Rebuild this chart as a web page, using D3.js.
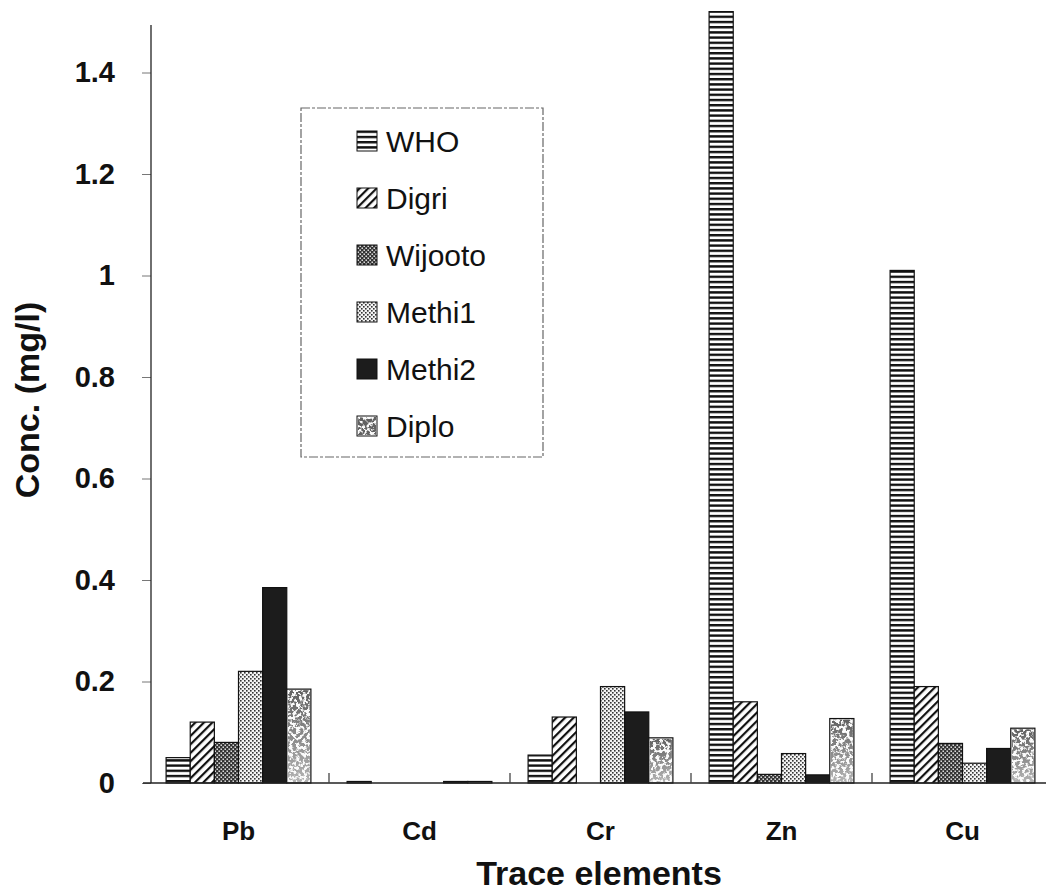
<!DOCTYPE html>
<html>
<head>
<meta charset="utf-8">
<script src="https://cdn.jsdelivr.net/npm/d3@7"></script>
<style>
  body { margin: 0; background: #fff; }
  text { font-family: "Liberation Sans", Arial, sans-serif; fill: #111; }
</style>
</head>
<body>
<script>
var svgWidth = 1046;
var svgHeight = 896;

// categories and series
var elements = ["Pb", "Cd", "Cr", "Zn", "Cu"];
var series = ["WHO", "Digri", "Wijooto", "Methi1", "Methi2", "Diplo"];

var who     = [0.05, 0.003, 0.055, 1.52, 1.01];
var digri   = [0.12, 0, 0.13, 0.16, 0.19];
var wijooto = [0.08, 0, 0, 0.017, 0.078];
var methi1  = [0.22, 0, 0.19, 0.058, 0.039];
var methi2  = [0.385, 0.003, 0.14, 0.016, 0.068];
var diplo   = [0.185, 0.003, 0.089, 0.127, 0.108];

var yTicks = [0, 0.2, 0.4, 0.6, 0.8, 1, 1.2, 1.4];

var values = [who, digri, wijooto, methi1, methi2, diplo];

var svg = d3.select("body")
  .append("svg")
  .attr("width", svgWidth)
  .attr("height", svgHeight);

// fill patterns for the black & white bars
var defs = svg.append("defs");

var pWho = defs.append("pattern").attr("id", "p-WHO")
  .attr("patternUnits", "userSpaceOnUse").attr("width", 6).attr("height", 5.2);
pWho.append("rect").attr("width", 6).attr("height", 5.2).attr("fill", "#fff");
pWho.append("rect").attr("width", 6).attr("height", 2.4).attr("fill", "#111");

var pDigri = defs.append("pattern").attr("id", "p-Digri")
  .attr("patternUnits", "userSpaceOnUse").attr("width", 6).attr("height", 6)
  .attr("patternTransform", "rotate(-45)");
pDigri.append("rect").attr("width", 6).attr("height", 6).attr("fill", "#fff");
pDigri.append("rect").attr("width", 6).attr("height", 2.2).attr("fill", "#111");

var pWij = defs.append("pattern").attr("id", "p-Wijooto")
  .attr("patternUnits", "userSpaceOnUse").attr("width", 4).attr("height", 4);
pWij.append("rect").attr("width", 4).attr("height", 4).attr("fill", "#333");
pWij.append("rect").attr("x", 0.5).attr("y", 0.5).attr("width", 1.4).attr("height", 1.4).attr("fill", "#fff");
pWij.append("rect").attr("x", 2.5).attr("y", 2.5).attr("width", 1.4).attr("height", 1.4).attr("fill", "#fff");

var pMe1 = defs.append("pattern").attr("id", "p-Methi1")
  .attr("patternUnits", "userSpaceOnUse").attr("width", 4).attr("height", 4);
pMe1.append("rect").attr("width", 4).attr("height", 4).attr("fill", "#f4f4f4");
pMe1.append("rect").attr("width", 1.6).attr("height", 1.6).attr("fill", "#333");
pMe1.append("rect").attr("x", 2).attr("y", 2).attr("width", 1.6).attr("height", 1.6).attr("fill", "#333");

// blotchy speckle for Diplo, darker towards the top
var speckle = defs.append("filter").attr("id", "speckle")
  .attr("x", 0).attr("y", 0).attr("width", 1).attr("height", 1);
speckle.append("feTurbulence").attr("type", "fractalNoise")
  .attr("baseFrequency", 0.3).attr("numOctaves", 3).attr("seed", 7);
speckle.append("feColorMatrix").attr("type", "matrix")
  .attr("values", "0 0 0 0 0.12  0 0 0 0 0.12  0 0 0 0 0.12  -8 0 0 0 4.7");

var fade = defs.append("linearGradient").attr("id", "fade")
  .attr("x1", 0).attr("y1", 0).attr("x2", 0).attr("y2", 1);
fade.append("stop").attr("offset", 0).attr("stop-color", "#fff");
fade.append("stop").attr("offset", 1).attr("stop-color", "#777");

var mask = defs.append("mask").attr("id", "fadeMask")
  .attr("maskContentUnits", "objectBoundingBox");
mask.append("rect").attr("width", 1).attr("height", 1).attr("fill", "url(#fade)");

var fills = {
  WHO: "url(#p-WHO)",
  Digri: "url(#p-Digri)",
  Wijooto: "url(#p-Wijooto)",
  Methi1: "url(#p-Methi1)",
  Methi2: "#1c1c1c",
  Diplo: "#fbfbfb"
};

// scales
var x0 = d3.scaleBand()
  .domain(elements)
  .range([148, 1053])
  .paddingInner(0.2)
  .paddingOuter(0.1);

var x1 = d3.scaleBand()
  .domain(series)
  .range([0, x0.bandwidth()]);

var y = d3.scaleLinear()
  .domain([0, 1.4])
  .range([783, 72.5]);

var barData = [];
elements.forEach(function(el, i) {
  series.forEach(function(s, j) {
    barData.push({ el: el, s: s, v: values[j][i] });
  });
});

var bars = svg.append("g");
bars.selectAll("rect.bar")
  .data(barData.filter(d => d.v > 0))
  .enter().append("rect")
  .attr("class", "bar")
  .attr("x", d => x0(d.el) + x1(d.s))
  .attr("y", d => y(d.v))
  .attr("width", x1.bandwidth())
  .attr("height", d => y(0) - y(d.v))
  .attr("fill", d => fills[d.s])
  .attr("stroke", "#111")
  .attr("stroke-width", 1.2);

bars.selectAll("g.spk")
  .data(barData.filter(d => d.v > 0.01 && d.s === "Diplo"))
  .enter().append("g")
  .attr("class", "spk")
  .attr("mask", "url(#fadeMask)")
  .append("rect")
  .attr("x", d => x0(d.el) + x1(d.s) + 1)
  .attr("y", d => y(d.v) + 1)
  .attr("width", x1.bandwidth() - 2)
  .attr("height", d => y(0) - y(d.v) - 2)
  .attr("filter", "url(#speckle)");

// y axis
var leftAxis = d3.axisLeft(y)
  .tickValues(yTicks)
  .tickSize(9)
  .tickPadding(27)
  .tickFormat(d3.format("~g"));

var yAxis = svg.append("g")
  .attr("transform", "translate(151,0)")
  .call(leftAxis);
yAxis.select(".domain").remove();
yAxis.selectAll(".tick line").attr("stroke", "#777");
yAxis.selectAll(".tick text")
  .style("font-size", "29px")
  .style("font-weight", "bold")
  .attr("fill", "#111");

svg.append("line")
  .attr("x1", 151).attr("x2", 151)
  .attr("y1", 25).attr("y2", y(0))
  .attr("stroke", "#222").attr("stroke-width", 1.3);

// x axis
var bottomAxis = d3.axisBottom(x0).tickSize(0).tickPadding(39);
var xAxis = svg.append("g")
  .attr("transform", "translate(0," + y(0) + ")")
  .call(bottomAxis);
xAxis.select(".domain").remove();
xAxis.selectAll(".tick text")
  .style("font-size", "26px")
  .style("font-weight", "bold")
  .attr("fill", "#111");

svg.append("line")
  .attr("x1", 143).attr("x2", 1046)
  .attr("y1", y(0)).attr("y2", y(0))
  .attr("stroke", "#222").attr("stroke-width", 1.3);

// separators between categories
svg.selectAll("line.sep")
  .data(elements.slice(1))
  .enter().append("line")
  .attr("class", "sep")
  .attr("x1", d => x0(d) - x0.step() * x0.paddingInner() / 2)
  .attr("x2", d => x0(d) - x0.step() * x0.paddingInner() / 2)
  .attr("y1", y(0) - 10).attr("y2", y(0))
  .attr("stroke", "#444").attr("stroke-width", 1.3);

// axis titles
svg.append("text")
  .attr("x", 599).attr("y", 885)
  .attr("text-anchor", "middle")
  .style("font-size", "34px")
  .style("font-weight", "bold")
  .text("Trace elements");

svg.append("text")
  .attr("transform", "translate(39,400) rotate(-90)")
  .attr("text-anchor", "middle")
  .style("font-size", "34px")
  .style("font-weight", "bold")
  .text("Conc. (mg/l)");

// legend
var legend = svg.append("g");
legend.append("rect")
  .attr("x", 301).attr("y", 108)
  .attr("width", 242).attr("height", 349)
  .attr("fill", "#fff")
  .attr("stroke", "#666")
  .attr("stroke-width", 1.2)
  .attr("stroke-dasharray", "9 2 3 2");

var items = legend.selectAll("g.item")
  .data(series)
  .enter().append("g")
  .attr("class", "item")
  .attr("transform", (d, i) => "translate(357," + (141 + i * 57) + ")");

items.append("rect")
  .attr("x", 0).attr("y", -10)
  .attr("width", 20).attr("height", 20)
  .attr("fill", d => fills[d])
  .attr("stroke", "#111")
  .attr("stroke-width", 1);

items.filter(d => d === "Diplo").append("rect")
  .attr("x", 1).attr("y", -9)
  .attr("width", 18).attr("height", 18)
  .attr("filter", "url(#speckle)");

items.append("text")
  .attr("x", 29).attr("y", 0)
  .attr("dy", "0.36em")
  .style("font-size", "30px")
  .text(d => d);
</script>
</body>
</html>
